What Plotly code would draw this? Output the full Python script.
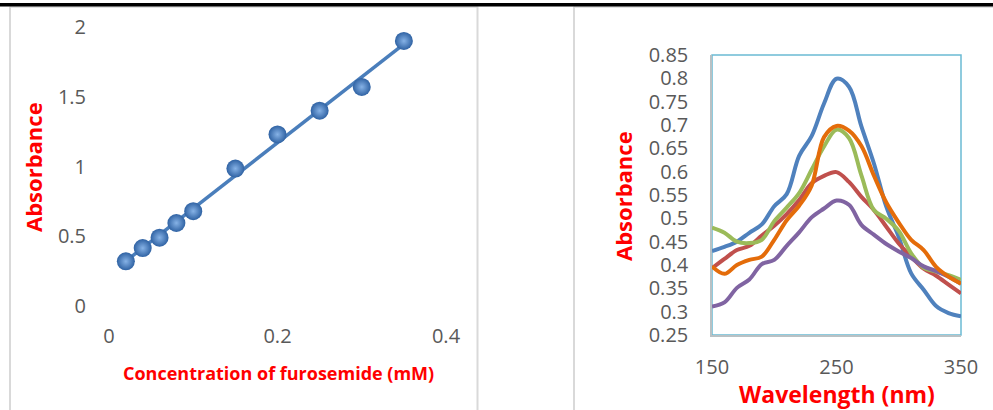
import numpy as np
import plotly.graph_objects as go

W, H = 993, 410

# ---------------- data ----------------
conc = [0.02, 0.04, 0.06, 0.08, 0.10, 0.15, 0.20, 0.25, 0.30, 0.35]
absorb = [0.32, 0.415, 0.49, 0.595, 0.68, 0.985, 1.23, 1.40, 1.57, 1.90]

wavelength = [150, 160, 170, 180, 190, 200, 210, 220, 230, 240, 250,
              260, 270, 280, 290, 300, 310, 320, 330, 340, 350]
s_blue = [0.430, 0.439, 0.450, 0.469, 0.487, 0.526, 0.552, 0.634, 0.676, 0.746, 0.799,
          0.782, 0.697, 0.618, 0.525, 0.460, 0.382, 0.347, 0.312, 0.297, 0.290]
s_red = [0.393, 0.413, 0.432, 0.441, 0.463, 0.484, 0.509, 0.539, 0.575, 0.591, 0.599,
         0.578, 0.546, 0.518, 0.482, 0.446, 0.418, 0.392, 0.377, 0.358, 0.339]
s_green = [0.480, 0.469, 0.450, 0.447, 0.454, 0.494, 0.523, 0.554, 0.604, 0.654, 0.690,
           0.672, 0.592, 0.518, 0.499, 0.473, 0.425, 0.394, 0.386, 0.378, 0.368]
s_purple = [0.311, 0.320, 0.351, 0.369, 0.402, 0.411, 0.441, 0.470, 0.502, 0.521, 0.538,
            0.529, 0.486, 0.465, 0.445, 0.429, 0.415, 0.397, 0.387, 0.375, 0.360]
s_orange = [0.397, 0.381, 0.400, 0.411, 0.418, 0.454, 0.496, 0.527, 0.570, 0.674, 0.698,
            0.688, 0.655, 0.592, 0.534, 0.491, 0.454, 0.432, 0.396, 0.375, 0.360]

left_xticks = [0, 0.2, 0.4]
left_xtext = ["0", "0.2", "0.4"]
left_yticks = [0, 0.5, 1, 1.5, 2]
left_ytext = ["0", "0.5", "1", "1.5", "2"]
right_xticks = [150, 250, 350]
right_xtext = ["150", "250", "350"]
right_yticks = [0.25, 0.30, 0.35, 0.40, 0.45, 0.50, 0.55, 0.60, 0.65, 0.70, 0.75, 0.80, 0.85]
right_ytext = ["0.25", "0.3", "0.35", "0.4", "0.45", "0.5", "0.55", "0.6", "0.65",
               "0.7", "0.75", "0.8", "0.85"]

series = [
    (s_blue, "#4F81BD"),
    (s_red, "#C0504D"),
    (s_green, "#9BBB59"),
    (s_purple, "#8064A2"),
    (s_orange, "#E46C0A"),
]

# ---------------- helpers ----------------
def px_x(p):
    return p / W

def px_y(p):
    return 1 - p / H

TICK = "#595959"
FONT = "Open Sans"

fig = go.Figure()

# trendline (least-squares)
k, b0 = np.polyfit(conc, absorb, 1)
tx = [min(conc), max(conc)]
ty = [k * v + b0 for v in tx]
fig.add_trace(go.Scatter(x=tx, y=ty, mode="lines", xaxis="x", yaxis="y",
                         line=dict(color="#4A7EBB", width=3.5), hoverinfo="skip"))
fig.add_trace(go.Scatter(x=conc, y=absorb, mode="markers", xaxis="x", yaxis="y",
                         marker=dict(size=18, color="#2F62A3",
                                     gradient=dict(type="radial", color="#86B2E6"),
                                     line=dict(width=0))))

for vals, col in series:
    fig.add_trace(go.Scatter(x=wavelength, y=vals, mode="lines", xaxis="x2", yaxis="y2",
                             line=dict(color=col, width=4, shape="spline", smoothing=1.0)))

axis_common = dict(showgrid=False, zeroline=False, ticks="", automargin=False,
                   tickfont=dict(family=FONT, size=20, color=TICK))

fig.update_layout(
    template="none",
    width=W, height=H,
    margin=dict(l=0, r=0, t=0, b=0, pad=0, autoexpand=False),
    paper_bgcolor="white", plot_bgcolor="rgba(0,0,0,0)",
    showlegend=False,
    xaxis=dict(domain=[px_x(109), px_x(446)], range=[0, 0.4], tickvals=left_xticks,
               ticktext=left_xtext, showline=False, anchor="y",
               ticklabelstandoff=16, **axis_common),
    yaxis=dict(domain=[px_y(306), px_y(27)], range=[0, 2], tickvals=left_yticks,
               ticktext=left_ytext, showline=False, anchor="x",
               ticklabelstandoff=22, **axis_common),
    xaxis2=dict(domain=[px_x(712), px_x(961)], range=[150, 350], tickvals=right_xticks,
                ticktext=right_xtext, showline=True, linecolor="#B9C1C4", linewidth=1.5,
                anchor="y2", ticklabelstandoff=13, **axis_common),
    yaxis2=dict(domain=[px_y(335), px_y(55)], range=[0.25, 0.85], tickvals=right_yticks,
                ticktext=right_ytext, showline=True, linecolor="#B9C1C4", linewidth=1.5,
                anchor="x2", ticklabelstandoff=18, **axis_common),
)

title_font = lambda s: dict(family=FONT, size=s, color="#FF0000", weight="bold")
fig.add_annotation(text="Absorbance", x=px_x(33), y=px_y(167), xref="paper", yref="paper",
                   textangle=-90, showarrow=False, font=title_font(22),
                   xanchor="center", yanchor="middle")
fig.add_annotation(text="Concentration of furosemide (mM)", x=px_x(278), y=px_y(373),
                   xref="paper", yref="paper", showarrow=False, font=title_font(18),
                   xanchor="center", yanchor="middle")
fig.add_annotation(text="Absorbance", x=px_x(623), y=px_y(196), xref="paper", yref="paper",
                   textangle=-90, showarrow=False, font=title_font(22),
                   xanchor="center", yanchor="middle")
fig.add_annotation(text="Wavelength (nm)", x=px_x(837), y=px_y(394), xref="paper",
                   yref="paper", showarrow=False, font=title_font(23),
                   xanchor="center", yanchor="middle")

shapes = []
# right plot frame (light blue top/right)
shapes.append(dict(type="rect", xref="paper", yref="paper", layer="below",
                   x0=px_x(712), x1=px_x(961), y0=px_y(335), y1=px_y(55),
                   line=dict(color="#6BBAD4", width=1.5)))
# chart area borders
g = "#D9D9D9"
for xv in (10, 477.5, 574):
    shapes.append(dict(type="line", xref="paper", yref="paper", x0=px_x(xv), x1=px_x(xv),
                       y0=px_y(6.5), y1=px_y(412), line=dict(color=g, width=2)))
shapes.append(dict(type="line", xref="paper", yref="paper", x0=px_x(10), x1=px_x(477.5),
                   y0=px_y(7), y1=px_y(7), line=dict(color=g, width=1.5)))
shapes.append(dict(type="line", xref="paper", yref="paper", x0=px_x(574), x1=px_x(995),
                   y0=px_y(7), y1=px_y(7), line=dict(color=g, width=1.5)))
# thick black table rule
shapes.append(dict(type="rect", xref="paper", yref="paper", x0=px_x(-2), x1=px_x(995),
                   y0=px_y(6.4), y1=px_y(3), fillcolor="black", line=dict(width=0)))
fig.update_layout(shapes=shapes)

fig.write_html(
    "out.html",
    config={"displayModeBar": False},
    post_script="document.body.style.margin='0';document.body.style.overflow='hidden';",
)
